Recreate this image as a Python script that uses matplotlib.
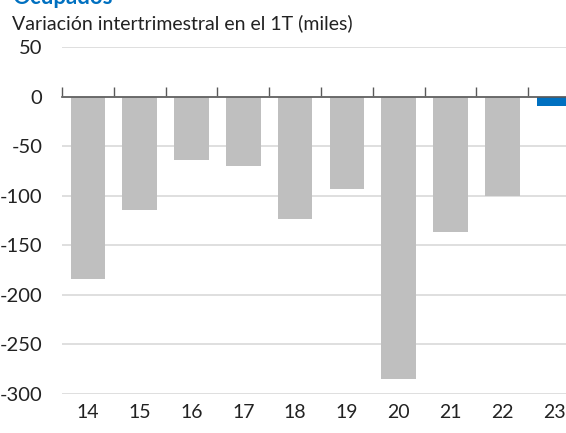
import matplotlib
matplotlib.use("Agg")
import matplotlib.pyplot as plt
import numpy as np

# data
years = ["14", "15", "16", "17", "18", "19", "20", "21", "22", "23"]
values = [-184, -114, -64, -70, -123, -93, -285, -137, -100, -10]
colors = ["#bfbfbf"] * 9 + ["#0070c0"]
yticks = [50, 0, -50, -100, -150, -200, -250, -300]

plt.rcParams['font.family'] = ['Lato', 'DejaVu Sans']

W, H = 566, 433
fig = plt.figure(figsize=(W / 100, H / 100), dpi=100)
# axes runs past the right edge, the original is cropped
ax = fig.add_axes([62 / W, (H - 394) / H, 518 / W, 347 / H])

x = np.arange(len(years))
ax.bar(x, values, width=0.67, color=colors, zorder=2)

ax.set_xlim(-0.5, len(years) - 0.5)
ax.set_ylim(-300, 50)
ax.set_yticks(yticks)
ax.set_yticklabels([str(v) for v in yticks])
ax.yaxis.grid(True, color="#d9d9d9", lw=1.2)
ax.set_axisbelow(True)
ax.tick_params(axis="y", length=0, pad=14, labelsize=14.5, labelcolor="#222222")
for lab in ax.get_yticklabels():
    lab.set_horizontalalignment("right")

for s in ["top", "right", "left"]:
    ax.spines[s].set_visible(False)
ax.spines["bottom"].set_position(("data", 0))
ax.spines["bottom"].set_color("#595959")
ax.spines["bottom"].set_linewidth(1.2)
ax.spines["bottom"].set_zorder(3)
ax.set_xticks(x - 0.5)
ax.set_xticklabels([])
ax.tick_params(axis="x", direction="in", length=7, width=1, color="#595959")

sec = ax.secondary_xaxis(0)
sec.set_xticks(x, labels=years)
sec.tick_params(length=0, pad=7, labelsize=14, labelcolor="#222222")
sec.spines["bottom"].set_visible(False)

fig.text(12 / W, 1 - 4 / H, "Ocupados", color="#0070c0", fontsize=16,
         fontweight="bold", va="baseline")
fig.text(12 / W, 1 - 29 / H, "Variación intertrimestral en el 1T (miles)",
         color="#222222", fontsize=14, va="baseline")

fig.savefig("out.png", dpi=100)
